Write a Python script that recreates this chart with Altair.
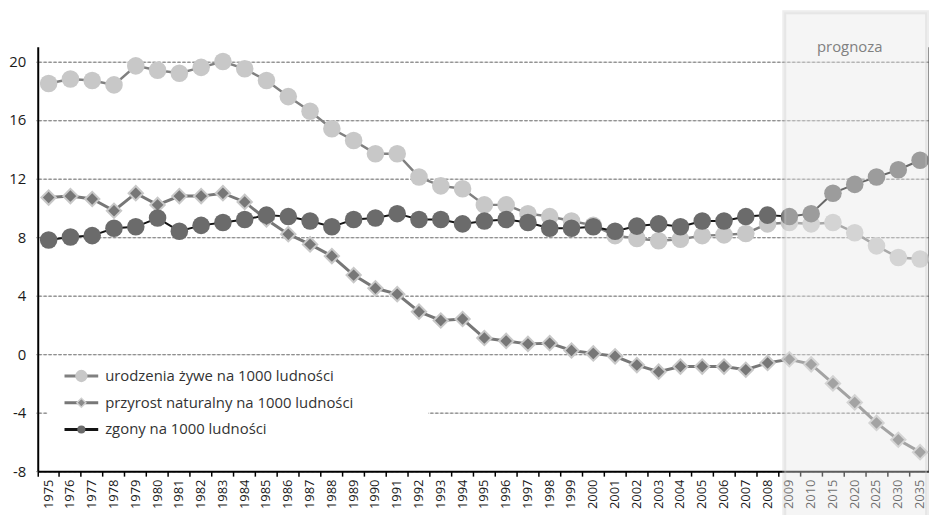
import altair as alt
import pandas as pd

YEARS = [str(y) for y in range(1975, 2011)] + ["2015", "2020", "2025", "2030", "2035"]

BIRTHS = [18.5, 18.8, 18.7, 18.4, 19.7, 19.4, 19.2, 19.6, 20.0, 19.5,
          18.7, 17.6, 16.6, 15.4, 14.6, 13.7, 13.7, 12.1, 11.5, 11.3,
          10.2, 10.2, 9.6, 9.4, 9.1, 8.8, 8.1, 7.9, 7.75, 7.85,
          8.1, 8.15, 8.25, 8.9, 9.0, 8.9,
          9.0, 8.3, 7.4, 6.6, 6.5]

NATURAL = [10.7, 10.8, 10.6, 9.8, 11.0, 10.2, 10.8, 10.8, 11.0, 10.4,
           9.2, 8.2, 7.5, 6.7, 5.4, 4.5, 4.1, 2.9, 2.3, 2.4,
           1.1, 0.9, 0.7, 0.75, 0.25, 0.05, -0.15, -0.75, -1.2, -0.85,
           -0.85, -0.85, -1.07, -0.6, -0.35, -0.7,
           -2.0, -3.3, -4.7, -5.85, -6.7]

DEATHS = [7.8, 8.0, 8.1, 8.6, 8.7, 9.3, 8.4, 8.8, 9.0, 9.2,
          9.5, 9.4, 9.1, 8.7, 9.2, 9.3, 9.6, 9.2, 9.2, 8.9,
          9.1, 9.2, 9.0, 8.6, 8.6, 8.7, 8.4, 8.75, 8.9, 8.7,
          9.1, 9.1, 9.4, 9.5, 9.4, 9.6,
          11.0, 11.6, 12.1, 12.6, 13.25]

SERIES = ["urodzenia żywe na 1000 ludności",
          "przyrost naturalny na 1000 ludności",
          "zgony na 1000 ludności"]
Y_TICKS = [-8, -4, 0, 4, 8, 12, 16, 20]
FORECAST_LABEL = "prognoza"

FONT = "Open Sans"
LINE_COLORS = ["#808080", "#777777", "#141414"]
MARKER_FILLS = ["#c8c8c8", "#8a8a8a", "#6b6b6b"]
MARKER_STROKES = ["#c8c8c8", "#d0d0d0", "#6b6b6b"]

W, H = 899, 428
X_RANGE = 901

x_enc = alt.X(
    "year:N", sort=YEARS,
    scale=alt.Scale(type="band", domain=YEARS, range=[0, X_RANGE], paddingInner=0, paddingOuter=0),
    axis=alt.Axis(title=None, labelAngle=-90, labelAlign="right", labelBaseline="middle",
                  labelFont=FONT, labelFontSize=13, labelColor="#1a1a1a", labelPadding=3,
                  bandPosition=0, ticks=True, tickSize=5, tickColor="#000", tickWidth=1.5,
                  domainColor="#000", domainWidth=2, grid=False, labelOverlap=False),
)

y_scale = alt.Scale(domain=[-8, 21], nice=False, zero=False)
y_axis = alt.Axis(title=None, values=Y_TICKS, grid=True, gridDash=[3, 2], gridColor="#8a8a8a",
                  gridWidth=1, ticks=False, tickSize=0, domainColor="#000", domainWidth=2,
                  labelExpr="'' + datum.value",
                  labelFont=FONT, labelFontSize=15, labelColor="#1a1a1a", labelPadding=12)


def series_df(values):
    return pd.DataFrame({"year": YEARS, "value": values})


layers = []
first = True
specs = [
    (BIRTHS, dict(color=LINE_COLORS[0], strokeWidth=2.5),
     "circle", dict(size=314, color=MARKER_FILLS[0], opacity=1)),
    (NATURAL, dict(color=LINE_COLORS[1], strokeWidth=3),
     "point", dict(shape="diamond", filled=True, size=210, fill="#777777", stroke="#c8c8c8", strokeWidth=2, opacity=1)),
    (DEATHS, dict(color=LINE_COLORS[2], strokeWidth=2),
     "circle", dict(size=314, color=MARKER_FILLS[2], opacity=1)),
]
for vals, line_style, ptype, pstyle in specs:
    df = series_df(vals)
    y_enc = alt.Y("value:Q", scale=y_scale, axis=y_axis if first else None)
    first = False
    layers.append(alt.Chart(df).mark_line(**line_style).encode(x=x_enc, y=y_enc))
    base = alt.Chart(df)
    pt = base.mark_circle(**pstyle) if ptype == "circle" else base.mark_point(**pstyle)
    layers.append(pt.encode(x=x_enc, y=y_enc))

# legend (white box + entries)
leg_df = pd.DataFrame({"series": SERIES})
leg_y = alt.Y("series:N", sort=SERIES,
              scale=alt.Scale(type="point", domain=SERIES, range=[332, 386], padding=0), axis=None)
legend_box = alt.Chart(pd.DataFrame({"a": [0]})).mark_rect(color="white").encode(
    x=alt.value(10), x2=alt.value(394), y=alt.value(317), y2=alt.value(405))
legend_line = alt.Chart(leg_df).mark_rule(strokeWidth=3).encode(
    x=alt.value(27), x2=alt.value(61), y=leg_y,
    color=alt.Color("series:N", scale=alt.Scale(domain=SERIES, range=LINE_COLORS), legend=None))
legend_mark = alt.Chart(leg_df).mark_point(filled=True, opacity=1, strokeWidth=1.5).encode(
    x=alt.value(44), y=leg_y,
    shape=alt.Shape("series:N", scale=alt.Scale(domain=SERIES, range=["circle", "diamond", "circle"]), legend=None),
    fill=alt.Fill("series:N", scale=alt.Scale(domain=SERIES, range=MARKER_FILLS), legend=None),
    stroke=alt.Stroke("series:N", scale=alt.Scale(domain=SERIES, range=MARKER_STROKES), legend=None),
    size=alt.Size("series:N", scale=alt.Scale(domain=SERIES, range=[120, 45, 120]), legend=None))
legend_text = alt.Chart(leg_df).mark_text(align="left", baseline="middle", font=FONT, fontSize=15, color="#333333").encode(
    x=alt.value(68), y=leg_y, text="series:N")

# forecast shading
shade = alt.Chart(pd.DataFrame({"a": [0]})).mark_rect(
    fill="#e6e6e6", fillOpacity=0.4, stroke="#c4c4c4", strokeOpacity=0.3, strokeWidth=4).encode(
    x=alt.value(753), x2=alt.value(897), y=alt.value(-35), y2=alt.value(490))
shade_text = alt.Chart(pd.DataFrame({"t": [FORECAST_LABEL]})).mark_text(
    font=FONT, fontSize=15, color="#808080", align="center", baseline="alphabetic").encode(
    x=alt.value(819), y=alt.value(5), text="t:N")

chart = alt.layer(*layers, legend_box, legend_line, legend_mark, legend_text, shade, shade_text).resolve_scale(
    y="independent").properties(
    width=W, height=H,
    autosize=alt.AutoSizeParams(type="none"),
    padding={"left": 30, "top": 37, "right": 0, "bottom": 42},
).configure_view(stroke=None)

chart.save("out.html", embed_options={"renderer": "svg", "actions": False})
